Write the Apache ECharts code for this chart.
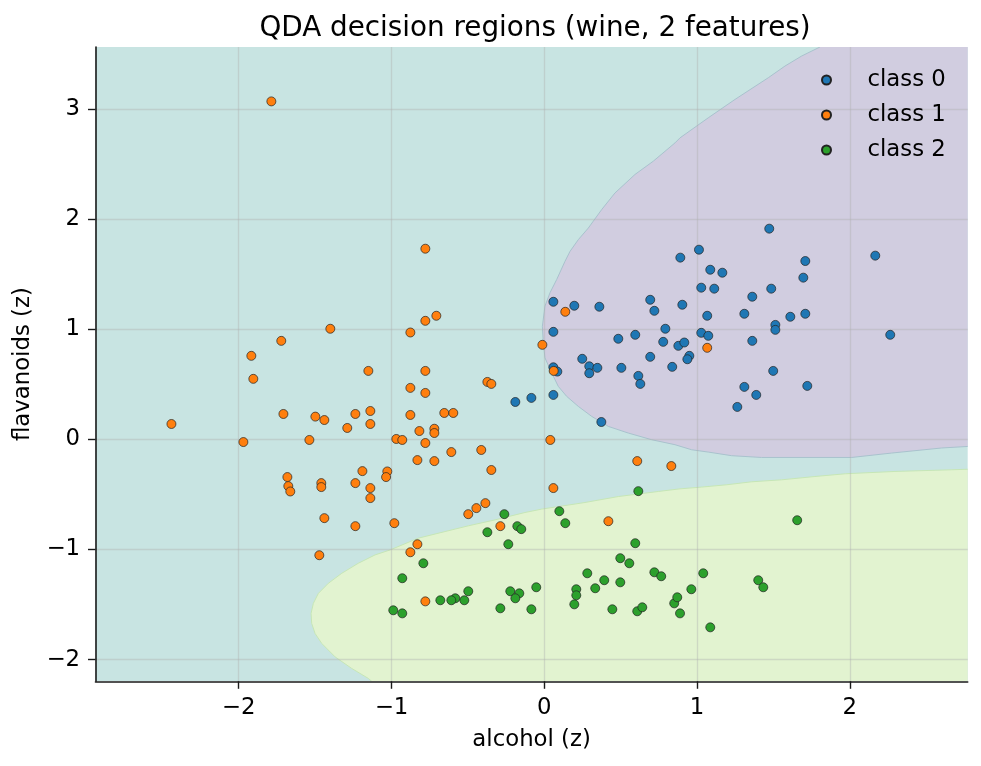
<!DOCTYPE html>
<html>
<head>
<meta charset="utf-8">
<title>QDA decision regions</title>
<script src="https://cdn.jsdelivr.net/npm/echarts@6/dist/echarts.min.js"></script>
<style>
  html, body { margin: 0; padding: 0; background: #fff; }
  #chart { width: 981px; height: 766px; }
</style>
</head>
<body>
<div id="chart"></div>
<script>
// axis extent (data range +/- 0.5)
var xRange = [-2.937, 2.772];
var yRange = [-2.197, 3.564];
var xTicks = [-2, -1, 0, 1, 2];
var yTicks = [-2, -1, 0, 1, 2, 3];
var classNames = ['class 0', 'class 1', 'class 2'];

// alcohol (z), flavanoids (z)
var class0 = [
  [0.060, 1.250], [0.197, 1.214], [0.361, 1.205], [0.694, 1.268], [0.721, 1.168], [0.904, 1.223],
  [0.060, 0.977], [0.485, 0.914], [0.596, 0.950], [0.793, 1.005], [0.779, 0.886], [0.878, 0.850], [0.917, 0.880],
  [0.249, 0.732], [0.295, 0.664], [0.295, 0.601], [0.348, 0.650], [0.505, 0.650], [0.694, 0.750], [0.838, 0.659],
  [0.616, 0.577], [0.629, 0.504], [0.060, 0.655], [0.086, 0.616], [-0.189, 0.340], [-0.084, 0.377], [0.060, 0.404], [0.374, 0.158],
  [1.087, 1.541], [1.166, 1.514], [1.028, 1.378], [1.113, 1.369], [1.486, 1.369], [1.696, 1.469], [1.709, 1.620], [1.362, 1.296],
  [1.067, 1.123], [1.310, 1.141], [1.611, 1.114], [1.709, 1.141], [1.513, 1.040], [1.513, 0.995], [1.028, 0.968], [1.074, 0.941],
  [1.362, 0.895], [0.950, 0.759], [0.937, 0.728], [2.265, 0.950], [1.499, 0.622], [1.310, 0.477], [1.722, 0.486], [1.388, 0.404],
  [1.264, 0.295], [1.473, 1.914], [1.013, 1.723], [0.891, 1.651], [2.167, 1.669]
];
var class1 = [
  [-1.786, 3.070],
  [-1.400, 1.005], [-1.721, 0.895], [-1.917, 0.759], [-1.904, 0.550], [-1.151, 0.622], [-1.707, 0.231], [-1.498, 0.207],
  [-1.439, 0.176], [-1.236, 0.231], [-1.138, 0.258], [-1.138, 0.140], [-1.289, 0.104], [-2.440, 0.140], [-1.969, -0.024],
  [-1.537, -0.005], [-1.190, -0.288],
  [0.138, 1.159], [-0.012, 0.859], [0.062, 0.622], [-0.778, 1.077], [-0.706, 1.123], [-0.876, 0.971], [-0.778, 0.622],
  [-0.876, 0.468], [-0.778, 0.422], [-0.372, 0.522], [-0.346, 0.504], [-0.876, 0.222], [-0.654, 0.240], [-0.595, 0.240],
  [-0.817, 0.076], [-0.719, 0.097], [-0.719, 0.058], [-0.968, 0.004], [-0.929, -0.005], [-0.778, -0.033], [0.040, -0.005],
  [-0.608, -0.115], [-0.412, -0.096], [-0.830, -0.188], [-0.719, -0.197], [-0.346, -0.278], [-1.027, -0.291], [-1.035, -0.342],
  [0.609, -0.197], [0.832, -0.242], [1.067, 0.832], [-0.778, 1.732],
  [-1.681, -0.342], [-1.675, -0.424], [-1.662, -0.473], [-1.459, -0.397], [-1.459, -0.433], [-1.236, -0.397], [-1.138, -0.442],
  [-1.138, -0.533], [-1.439, -0.715], [-1.236, -0.788], [-1.472, -1.052],
  [0.060, -0.442], [-0.981, -0.761], [-0.830, -0.952], [-0.876, -1.025], [-0.497, -0.679], [-0.444, -0.624], [-0.385, -0.579],
  [-0.287, -0.788], [0.420, -0.743], [-0.778, -1.471]
];
var class2 = [
  [0.616, -0.470], [-0.261, -0.679], [0.099, -0.652], [0.138, -0.761], [-0.372, -0.843], [-0.176, -0.788], [-0.150, -0.815],
  [-0.235, -0.952], [0.596, -0.943], [-0.791, -1.125], [-0.929, -1.261], [0.498, -1.079], [0.557, -1.125], [0.282, -1.216],
  [0.393, -1.279], [0.498, -1.298], [0.721, -1.207], [0.766, -1.243], [0.334, -1.352], [0.210, -1.361], [0.210, -1.416],
  [0.197, -1.498], [0.446, -1.543], [0.609, -1.561], [0.642, -1.525], [0.851, -1.489], [0.871, -1.434], [0.889, -1.580],
  [-0.052, -1.343], [-0.222, -1.379], [-0.163, -1.398], [-0.189, -1.443], [-0.497, -1.379], [-0.523, -1.461], [-0.582, -1.443],
  [-0.608, -1.461], [-0.680, -1.461], [-0.287, -1.534], [-0.084, -1.543], [-0.988, -1.552], [-0.929, -1.580],
  [1.656, -0.734], [1.041, -1.216], [0.963, -1.361], [1.401, -1.279], [1.434, -1.343], [1.087, -1.707]
];

// edge of the class 0 region: top edge -> left tip -> right edge
var boundary0 = [
  [1.805, 3.564], [1.685, 3.482], [1.576, 3.391], [1.467, 3.285], [1.249, 3.088], [1.074, 2.921], [0.889, 2.739],
  [0.856, 2.693], [0.714, 2.527], [0.594, 2.406], [0.463, 2.238], [0.376, 2.087], [0.289, 1.920], [0.223, 1.814],
  [0.169, 1.708], [0.136, 1.617], [0.082, 1.453], [0.038, 1.332], [0.005, 1.210], [-0.012, 1.028], [-0.006, 0.877],
  [0.005, 0.741], [0.049, 0.604], [0.092, 0.482], [0.147, 0.391], [0.223, 0.300], [0.311, 0.209], [0.420, 0.118],
  [0.550, 0.058], [0.704, -0.003], [0.856, -0.048], [0.965, -0.094], [1.074, -0.115], [1.227, -0.148], [1.423, -0.164],
  [2.012, -0.164], [2.274, -0.124], [2.601, -0.078], [2.772, -0.064]
];
// edge of the class 2 region: bottom edge -> left tip -> right edge
var boundary2 = [
  [-1.129, -2.197], [-1.151, -2.171], [-1.260, -2.080], [-1.369, -1.975], [-1.456, -1.853], [-1.500, -1.762],
  [-1.522, -1.671], [-1.526, -1.580], [-1.511, -1.489], [-1.478, -1.398], [-1.413, -1.307], [-1.325, -1.216],
  [-1.217, -1.125], [-1.107, -1.049], [-1.009, -1.004], [-0.824, -0.897], [-0.649, -0.837], [-0.497, -0.785],
  [-0.322, -0.731], [-0.126, -0.664], [-0.016, -0.633], [0.267, -0.573], [0.485, -0.519], [0.747, -0.473],
  [0.889, -0.449], [1.031, -0.433], [1.194, -0.412], [1.358, -0.385], [1.554, -0.367], [1.772, -0.337],
  [1.972, -0.312], [2.296, -0.291], [2.667, -0.276], [2.772, -0.271]
];

var font = 'DejaVu Sans';
var ink = '#000';
var spine = '#1a1a1a';

function minusFmt(v) {
  return v < 0 ? '\u2212' + (-v) : String(v);
}

// region polygon (+ optional edge line) drawn through the axes
function region(poly, edge, fill, stroke) {
  return {
    type: 'custom',
    silent: true,
    clip: true,
    z: 1,
    data: [[0, 0]],
    renderItem: function (params, api) {
      var toPx = function (p) { return api.coord(p); };
      var children = [{
        type: 'polygon',
        shape: { points: poly.map(toPx) },
        style: { fill: fill }
      }];
      if (edge) {
        children.push({
          type: 'polyline',
          shape: { points: edge.map(toPx) },
          style: { fill: null, stroke: stroke, lineWidth: 1 }
        });
      }
      return { type: 'group', children: children };
    }
  };
}

var bgPoly = [[xRange[0], yRange[0]], [xRange[1], yRange[0]], [xRange[1], yRange[1]], [xRange[0], yRange[1]]];
var poly0 = boundary0.concat([[xRange[1], yRange[1]]]);
var poly2 = boundary2.concat([[xRange[1], yRange[0]]]);

var colors = ['#1f77b4', '#ff7f0e', '#2ca02c'];

function pointSeries(name, data, color) {
  return {
    name: name,
    type: 'scatter',
    z: 5,
    data: data,
    symbol: 'circle',
    symbolSize: 9,
    itemStyle: { color: color, borderColor: '#222', borderWidth: 0.7, opacity: 1 },
    emphasis: { disabled: true }
  };
}

function axis(range, ticks, name, gap) {
  return {
    type: 'value',
    min: range[0],
    max: range[1],
    z: 3,
    name: name,
    nameLocation: 'middle',
    nameGap: gap,
    nameTextStyle: { fontFamily: font, fontSize: 22.8, color: ink },
    axisLine: { show: true, onZero: false, lineStyle: { color: spine, width: 1.6 } },
    axisTick: { show: true, length: 7.5, customValues: ticks, lineStyle: { color: spine, width: 1.4 } },
    axisLabel: { customValues: ticks, formatter: minusFmt, fontFamily: font, fontSize: 22.8, color: ink, margin: 15.5 },
    splitLine: { show: true, lineStyle: { color: 'rgba(176,176,176,0.4)', width: 1.3 } }
  };
}

var chart = echarts.init(document.getElementById('chart'));
chart.setOption({
  animation: false,
  backgroundColor: '#fff',
  title: {
    text: 'QDA decision regions (wine, 2 features)',
    left: 535,
    top: 15,
    textAlign: 'center',
    padding: 0,
    textStyle: { fontFamily: font, fontSize: 27.8, fontWeight: 'normal', color: ink }
  },
  legend: {
    data: classNames,
    orient: 'vertical',
    left: 821,
    top: 68.5,
    padding: 0,
    icon: 'circle',
    itemWidth: 72,
    itemHeight: 9,
    itemGap: 12,
    selectedMode: false,
    textStyle: { fontFamily: font, fontSize: 22.8, lineHeight: 22, color: ink }
  },
  grid: { left: 95.5, right: 13.3, top: 47, bottom: 84.7 },
  xAxis: axis(xRange, xTicks, 'alcohol (z)', 47),
  yAxis: axis(yRange, yTicks, 'flavanoids (z)', 61),
  series: [
    region(bgPoly, null, '#c8e4e2'),
    region(poly0, boundary0, '#d1cde0', '#a9c2cd'),
    region(poly2, boundary2, '#e2f3d0', '#c6e6b6'),
    pointSeries(classNames[0], class0, colors[0]),
    pointSeries(classNames[1], class1, colors[1]),
    pointSeries(classNames[2], class2, colors[2])
  ]
});
</script>
</body>
</html>
